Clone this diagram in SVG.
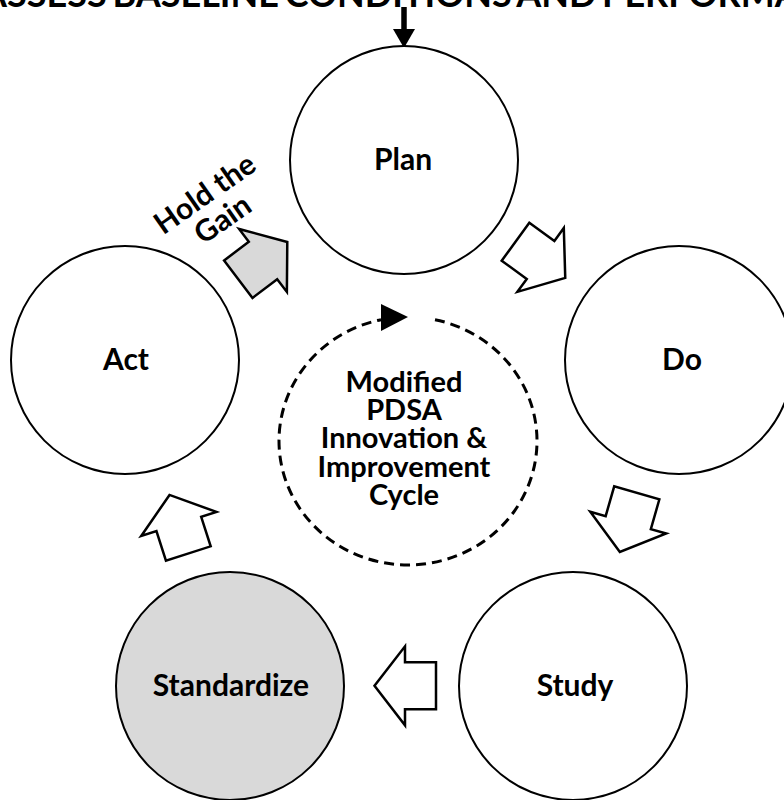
<svg xmlns="http://www.w3.org/2000/svg" width="784" height="800" viewBox="0 0 784 800">
<defs>
<style>
.node{fill:#ffffff;stroke:#000000;stroke-width:2}
.gray{fill:#d9d9d9}
.lbl{font-family:Lato,"Open Sans","Liberation Sans",sans-serif;font-weight:700;font-size:30px;fill:#000000;text-anchor:middle}
.mid{font-size:29px}
.blk{fill:#ffffff;stroke:#000000;stroke-width:2.5;stroke-linejoin:miter}
</style>
<path id="barrow" d="M0,-23.5 H31 V-39.5 L61.5,0 L31,39.5 V23.5 H0 Z"/>
</defs>
<rect width="784" height="800" fill="#ffffff"/>
<text x="-18" y="7" style="font-family:Lato,'Open Sans','Liberation Sans',sans-serif;font-weight:700;font-size:36px;word-spacing:-3px;fill:#000">ASSESS BASELINE CONDITIONS AND PERFORMANCE</text>
<g id="connectors">
<line x1="404" y1="7" x2="404" y2="31" stroke="#000" stroke-width="5.5"/>
<polygon points="393,29 415,29 404,48" fill="#000"/>
<use href="#barrow" class="blk" style="fill:#d9d9d9" transform="translate(238.3,279.2) rotate(-37.2)"/>
<use href="#barrow" class="blk" transform="translate(515.5,241.7) rotate(36)"/>
<use href="#barrow" class="blk" transform="translate(636.8,492.8) rotate(106)"/>
<use href="#barrow" class="blk" transform="translate(436,685.8) rotate(180)"/>
<use href="#barrow" class="blk" transform="translate(188.3,553.5) rotate(-107.8)"/>
</g>
<g id="plan"><circle class="node" cx="404" cy="160" r="114"/><text class="lbl" x="403" y="170">Plan</text></g>
<g id="do"><circle class="node" cx="679" cy="360" r="114"/><text class="lbl" x="682" y="370">Do</text></g>
<g id="study"><circle class="node" cx="573" cy="686" r="114"/><text class="lbl" x="575" y="696">Study</text></g>
<g id="standardize"><circle class="node gray" cx="230" cy="686" r="114"/><text class="lbl" x="231" y="696">Standardize</text></g>
<g id="act"><circle class="node" cx="125" cy="360" r="114"/><text class="lbl" x="126" y="370">Act</text></g>
<g id="hold-the-gain" transform="translate(205,194) rotate(-35)">
<text class="lbl" x="0" y="10">Hold the</text>
<text class="lbl" x="0" y="41">Gain</text>
</g>
<g id="cycle">
<path d="M435,319.7 A129,124 0 1 1 381,319.7" fill="none" stroke="#000" stroke-width="3" stroke-dasharray="10 6"/>
<polygon points="381,304 408,317 381,331" fill="#000"/>
<text class="lbl mid" x="404" y="392">Modified</text>
<text class="lbl mid" x="404" y="420">PDSA</text>
<text class="lbl mid" x="404" y="448">Innovation &amp;</text>
<text class="lbl mid" x="404" y="477">Improvement</text>
<text class="lbl mid" x="404" y="505">Cycle</text>
</g>
</svg>
